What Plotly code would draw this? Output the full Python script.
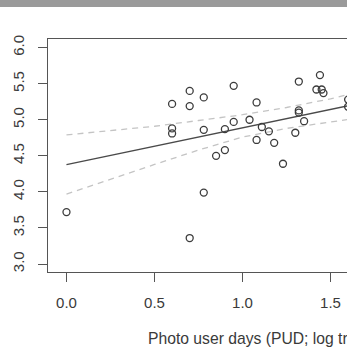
import plotly.graph_objects as go

# Observed points (log PUD vs response)
pud_x = [0.00, 0.60, 0.60, 0.60, 0.70, 0.70, 0.70, 0.78, 0.78, 0.78, 0.85,
         0.90, 0.90, 0.95, 0.95, 1.04, 1.08, 1.08, 1.11, 1.15, 1.18, 1.23,
         1.30, 1.32, 1.32, 1.32, 1.35, 1.42, 1.44, 1.45, 1.46, 1.60, 1.60]
resp_y = [3.72, 5.22, 4.88, 4.81, 5.40, 5.19, 3.36, 5.31, 4.86, 3.99, 4.50,
          4.87, 4.58, 5.47, 4.97, 5.00, 5.24, 4.72, 4.90, 4.84, 4.68, 4.39,
          4.82, 5.53, 5.13, 5.10, 4.98, 5.42, 5.62, 5.42, 5.37, 5.28, 5.18]

# Fitted line and confidence band
fit_x = [0.0, 1.7]
fit_y = [4.378, 5.245]
band_x = [0.0, 0.25, 0.5, 0.75, 1.0, 1.25, 1.5, 1.7]
band_upper = [4.79, 4.85, 4.91, 4.99, 5.07, 5.17, 5.29, 5.41]
band_lower = [3.97, 4.18, 4.38, 4.58, 4.76, 4.88, 4.97, 5.04]

x_ticks = [0.0, 0.5, 1.0, 1.5, 2.0]
y_ticks = [3.0, 3.5, 4.0, 4.5, 5.0, 5.5, 6.0]
x_title = "Photo user days (PUD; log transformed)"

W, H = 347, 351
L, T, B = 48, 39, 79
plot_h = H - T - B
plot_w = W - L

FONT = "Liberation Sans, Arial, Helvetica, sans-serif"
TXT = "#3a3a3a"

fig = go.Figure()
dash_style = dict(color="#c4c4c4", width=1.3, dash="6px,5px")
fig.add_trace(go.Scatter(x=band_x, y=band_upper, mode="lines", line=dash_style,
                         hoverinfo="skip"))
fig.add_trace(go.Scatter(x=band_x, y=band_lower, mode="lines", line=dash_style,
                         hoverinfo="skip"))
fig.add_trace(go.Scatter(x=fit_x, y=fit_y, mode="lines",
                         line=dict(color="#4a4a4a", width=1.4)))
fig.add_trace(go.Scatter(x=pud_x, y=resp_y, mode="markers",
                         marker=dict(symbol="circle-open", size=7,
                                     color="#3c3c3c",
                                     line=dict(width=1.3, color="#3c3c3c"))))

fig.update_layout(
    width=W, height=H,
    margin=dict(l=L, r=0, t=T, b=B, pad=0),
    paper_bgcolor="white", plot_bgcolor="white",
    showlegend=False,
    font=dict(family=FONT, size=15, color=TXT),
    xaxis=dict(range=[-0.105, (W - 66.5) / 176.0], tickvals=x_ticks,
               ticktext=[f"{v:.1f}" for v in x_ticks],
               showgrid=False, zeroline=False,
               showline=True, mirror=True, linecolor="#555", linewidth=1,
               ticks="outside", ticklen=9, tickcolor="#555", tickwidth=1,
               ticklabelstandoff=8,
               tickfont=dict(family=FONT, size=15, color=TXT)),
    yaxis=dict(range=[2.889, 6.12], tickvals=y_ticks,
               ticktext=[f"{v:.1f}" for v in y_ticks],
               showgrid=False, zeroline=False,
               showline=True, linecolor="#555", linewidth=1,
               ticks="outside", ticklen=9, tickcolor="#555", tickwidth=1,
               tickangle=-90, ticklabelstandoff=8,
               tickfont=dict(family=FONT, size=15, color=TXT)),
)

# top grey band
fig.add_shape(type="rect", xref="paper", yref="paper",
              x0=-L / plot_w, x1=1.0,
              y0=(H - B - 7) / plot_h, y1=(H - B) / plot_h,
              fillcolor="#9a9a9a", line=dict(width=0), layer="above")

fig.add_annotation(text=x_title, xref="paper", yref="paper",
                   x=(146 - L) / plot_w, y=-(338 - (H - B)) / plot_h,
                   xanchor="left", yanchor="middle", showarrow=False,
                   font=dict(family=FONT, size=15.7, color=TXT))

fig.write_html("out.html")
